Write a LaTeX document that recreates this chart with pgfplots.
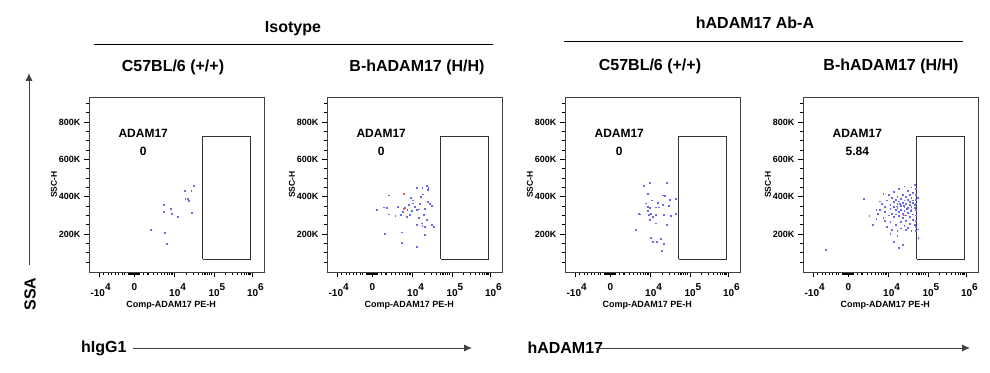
\documentclass[border=0pt]{standalone}
\usepackage{pgfplots}
\pgfplotsset{compat=1.18}
\usepackage{fontspec}
\setmainfont{Liberation Sans}
\usetikzlibrary{arrows.meta}
\definecolor{dotblue}{RGB}{105,105,245}
\definecolor{dotred}{RGB}{235,90,90}
\pgfplotsset{
 flowax/.style={
  scale only axis, width=175pt, height=175pt,
  xmin=0, xmax=100, ymin=-3, ymax=935,
  axis line style={black!75, line width=0.7pt},
  xtick align=outside, ytick align=outside,
  xtick pos=left, ytick pos=left,
  tickwidth=5pt, subtickwidth=3pt,
  xtick style={draw=black, line width=1.1pt},
  ytick style={draw=black, line width=1.1pt},
  xtick={6,26,49,71.5,93.5},
  xticklabels={\llap{-}10\rlap{\raisebox{0.6em}{4}}, 0, 10\rlap{\raisebox{0.6em}{4}}, 10\rlap{\raisebox{0.6em}{5}}, 10\rlap{\raisebox{0.6em}{6}}},
  minor xtick={8.4,10.9,13.1,15.2,17.1,18.9,20.4,22.4,23.1,23.8,24.4,25,25.5,26.5,27,27.6,28.3,29.1,31.2,33.7,36.6,38.9,41.3,43.2,44.8,46.1,47.4,55.7,59.6,62.4,64.6,66.3,67.8,69.1,70.2,78.1,82,84.8,86.9,88.6,90.1,91.4,92.5},
  ytick={200,400,600,800}, yticklabels={200K,400K,600K,800K},
  minor ytick={50,100,150,250,300,350,450,500,550,650,700,750,850,900},
  xticklabel style={font=\fontsize{10}{10}\selectfont\bfseries, yshift=-3pt},
  yticklabel style={font=\fontsize{9}{10}\selectfont\bfseries},
  xlabel={Comp-ADAM17 PE-H}, ylabel={SSC-H},
  xlabel style={font=\fontsize{9}{10}\selectfont\bfseries, at={(axis description cs:0.47,0)}, anchor=center, yshift=-33pt},
  ylabel style={font=\fontsize{8.5}{10}\selectfont\bfseries, at={(axis description cs:-0.2,0.5)}, anchor=center, rotate=0},
  clip=false,
 },
 dots/.style={only marks, color=dotblue, mark=square*, mark size=0.42pt, mark options={line width=0pt, draw=dotblue, fill=dotblue}},
 rdots/.style={only marks, color=dotred, mark=square*, mark size=0.42pt, mark options={line width=0pt, draw=dotred, fill=dotred}},
 gate/.style={black!80, line width=1pt, mark=none},
}
\newcommand{\gatebox}{\addplot[gate] coordinates {(65,64) (92.5,64) (92.5,723) (65,723) (65,64)};}
\tikzset{hdr/.style={font=\fontsize{16}{18}\selectfont\bfseries}, arr/.style={black!75, line width=0.9pt, -{Latex[length=8pt,width=7pt]}}}
\begin{document}
\begin{tikzpicture}
\path[use as bounding box] (0pt,0pt) rectangle (990pt,372pt);

% headers
\node[hdr] at (293pt,343pt) {Isotype};
\draw[line width=0.9pt] (94pt,328pt) -- (493pt,328pt);
\node[hdr] at (755pt,349pt) {hADAM17 Ab-A};
\draw[line width=0.9pt] (564pt,331pt) -- (963pt,331pt);
\node[hdr] at (173pt,305pt) {C57BL/6 (+/+)};
\node[hdr] at (417pt,305pt) {B-hADAM17 (H/H)};
\node[hdr] at (650pt,306pt) {C57BL/6 (+/+)};
\node[hdr] at (891pt,306pt) {B-hADAM17 (H/H)};

% SSA arrow
\draw[arr] (29pt,107pt) -- (29pt,299pt);
\node[hdr, rotate=90] at (30pt,78pt) {SSA};

% bottom arrows
\node[hdr, anchor=east] at (130pt,24pt) {hIgG1};
\draw[arr] (133pt,24pt) -- (472pt,24pt);
\node[hdr, anchor=west] at (524pt,24pt) {hADAM17};
\draw[arr] (596pt,24pt) -- (970pt,24pt);

% Panel 1
\begin{axis}[flowax, at={(89pt,100pt)}, anchor=south west]
\addplot[dots] coordinates {
(60.0,456) (54.7,430) (58.6,430) (55.1,389) (56.4,389) (57.0,376) (43.0,358) (46.9,334)
(43.0,318) (47.3,310) (51.0,291) (59.0,314) (35.2,220) (43.4,207) (44.5,145)
};
\gatebox
\node[font=\fontsize{12}{14}\selectfont\bfseries] at (axis cs:31,739) {ADAM17};
\node[font=\fontsize{12}{14}\selectfont\bfseries] at (axis cs:31,643) {0};
\end{axis}

% Panel 2
\begin{axis}[flowax, at={(327pt,100pt)}, anchor=south west]
\addplot[dots] coordinates {
(35.3,407) (44.2,412) (47.8,394) (53.5,400) (55.0,412) (56.9,458) (54.6,448) (57.9,435)
(51.2,449) (57.9,373) (58.8,360) (60.0,350) (32.4,343) (34.3,341) (28.8,328) (40.4,346)
(44.6,341) (46.9,355) (49.3,364) (50.3,346) (51.2,328) (48.4,323) (52.8,332) (56.0,334)
(43.6,318) (42.1,302) (39.1,296) (35.3,305) (45.5,293) (47.4,303) (52.4,286) (55.4,302)
(56.9,275) (54.1,257) (51.2,248) (54.6,243) (56.0,239) (59.8,248) (61.1,239) (33.0,200)
(42.7,209) (55.8,195) (42.9,154) (51.2,132) (49.0,380) (53.0,360) (46.0,330) (58.0,445)
};
\addplot[rdots] coordinates {(44.2,416) (44.0,336)};
\gatebox
\node[font=\fontsize{12}{14}\selectfont\bfseries] at (axis cs:31,739) {ADAM17};
\node[font=\fontsize{12}{14}\selectfont\bfseries] at (axis cs:31,643) {0};
\end{axis}

% Panel 3
\begin{axis}[flowax, at={(565pt,100pt)}, anchor=south west]
\addplot[dots] coordinates {
(48.4,474) (58.4,474) (45.2,456) (47.4,417) (56.0,407) (56.9,403) (59.8,385) (63.2,389)
(49.9,380) (53.1,369) (47.4,346) (48.8,341) (51.8,343) (53.7,343) (56.0,355) (59.4,350)
(42.3,310) (42.7,305) (47.2,325) (49.3,310) (50.3,293) (52.2,302) (56.4,302) (60.7,296)
(63.2,309) (48.4,275) (51.8,257) (58.3,248) (40.4,221) (49.3,177) (50.3,159) (52.6,157)
(55.0,172) (56.4,147) (55.6,111) (46.5,364) (48.0,302)
};
\gatebox
\node[font=\fontsize{12}{14}\selectfont\bfseries] at (axis cs:31,739) {ADAM17};
\node[font=\fontsize{12}{14}\selectfont\bfseries] at (axis cs:31,643) {0};
\end{axis}

% Panel 4
\begin{axis}[flowax, at={(803pt,100pt)}, anchor=south west]
\addplot[dots] coordinates {
(35,390) (38,295) (40,250) (42,330) (43,310) (44,375) (45,360) (46,285) (46,415) (47,320)
(47,345) (48,240) (48,380) (49,300) (49,410) (50,335) (50,355) (50,265) (51,395) (51,220)
(51,310) (52,370) (52,345) (52,290) (52,425) (53,330) (53,305) (53,385) (53,250) (54,360)
(54,340) (54,400) (54,215) (55,320) (55,375) (55,295) (55,440) (56,350) (56,330) (56,265)
(56,390) (56,230) (57,365) (57,310) (57,410) (57,285) (58,345) (58,380) (58,325) (58,245)
(58,455) (59,360) (59,300) (59,400) (59,270) (59,220) (60,340) (60,385) (60,315) (60,430)
(60,235) (61,355) (61,370) (61,290) (61,410) (61,255) (62,330) (62,395) (62,345) (62,450)
(62,215) (63,365) (63,305) (63,380) (63,275) (63,420) (64,340) (64,355) (64,250) (64,465)
(64.8,440) (64.8,410) (64.8,385) (64.8,360) (64.8,330) (64.8,300) (64.8,270) (64.8,240)
(64.8,215) (65.5,395) (65.5,225) (66,180) (52,160) (55,125) (57,140) (54,190) (13,115)
(47,270) (44,330) (42,280) (50,200) (57.5,352) (55.5,362) (59.5,335) (61.5,322) (53.5,348)
};
\addplot[rdots] coordinates {(57.5,300)};
\gatebox
\node[font=\fontsize{12}{14}\selectfont\bfseries] at (axis cs:31,739) {ADAM17};
\node[font=\fontsize{12}{14}\selectfont\bfseries] at (axis cs:31,643) {5.84};
\end{axis}
\end{tikzpicture}
\end{document}
